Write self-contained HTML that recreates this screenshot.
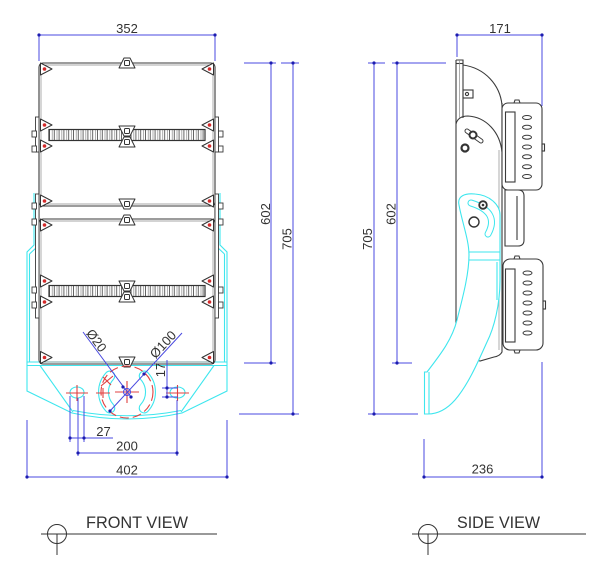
<!DOCTYPE html>
<html><head><meta charset="utf-8"><style>
html,body{margin:0;padding:0;background:#fff;}
svg{display:block}
text{font-family:"Liberation Sans",Arial,sans-serif;fill:#333;font-size:13px;}
</style></head><body>
<svg width="600" height="562" viewBox="0 0 600 562" xmlns="http://www.w3.org/2000/svg">
<defs>
<pattern id="fins" patternUnits="userSpaceOnUse" x="49" y="0" width="4.8" height="20">
<rect width="4.8" height="20" fill="#fff"/>
<line x1="0.5" y1="0" x2="0.5" y2="20" stroke="#555" stroke-width="0.9"/>
<line x1="3.2" y1="0" x2="3.2" y2="20" stroke="#8a8a8a" stroke-width="0.7"/>
</pattern>
</defs>
<rect width="600" height="562" fill="#fff"/>

<!-- ============ FRONT VIEW ============ -->
<g fill="none" stroke="#3ee6ee" stroke-width="1.1">
 <path d="M34,193 V245 L27,252 V391 L72,413 Q127,425 182,413 L227,391 V252 L220,245 V193"/>
 <path d="M73,410.5 Q127,421 181,410.5"/>
 <path d="M29.5,254 V362 M224.5,254 V362"/>
 <path d="M27,362 H227 M27,365.5 H227"/>
 <path d="M40,365.5 L73,412 M214,365.5 L181,412"/>
 <path d="M37,247 L29.5,254 M217,247 L224.5,254"/>
</g>

<g fill="none" stroke="#3a3a3a" stroke-width="1.1">
 <rect x="39" y="63" width="176" height="143" rx="4"/>
 <rect x="39" y="219" width="176" height="145" rx="4"/>
 <path d="M39,204 V221 M215,204 V221"/>
</g>
<g fill="none" stroke="#8a8a8a" stroke-width="0.7">
 <rect x="41" y="65" width="172" height="139" rx="3"/>
 <rect x="41" y="221" width="172" height="141" rx="3"/>
</g>

<g fill="#fff" stroke="#3a3a3a" stroke-width="0.9">
 <rect x="35.5" y="117" width="3.5" height="35"/>
 <rect x="215" y="117" width="3.5" height="35"/>
 <rect x="35.5" y="194" width="3.5" height="124"/>
 <rect x="215" y="194" width="3.5" height="124"/>
 <rect x="32" y="131" width="4.5" height="6"/>
 <rect x="32" y="146" width="4.5" height="6"/>
 <rect x="32" y="203" width="4.5" height="6"/>
 <rect x="32" y="219" width="4.5" height="6"/>
 <rect x="32" y="287" width="4.5" height="6"/>
 <rect x="32" y="302" width="4.5" height="6"/>
 <rect x="218.5" y="131" width="4.5" height="6"/>
 <rect x="218.5" y="146" width="4.5" height="6"/>
 <rect x="218.5" y="203" width="4.5" height="6"/>
 <rect x="218.5" y="219" width="4.5" height="6"/>
 <rect x="218.5" y="287" width="4.5" height="6"/>
 <rect x="218.5" y="302" width="4.5" height="6"/>
</g>

<rect x="49" y="129.5" width="156" height="11" fill="url(#fins)" stroke="#333" stroke-width="1.2"/>
<rect x="49" y="285.5" width="156" height="11" fill="url(#fins)" stroke="#333" stroke-width="1.2"/>

<g fill="#fff" stroke="#333" stroke-width="1" stroke-linejoin="round">
 <path d="M40.5,63 L52,69 L40.5,75 Z"/>
 <path d="M40.5,119 L52,125 L40.5,131 Z"/>
 <path d="M40.5,140 L52,146 L40.5,152 Z"/>
 <path d="M40.5,195 L52,201 L40.5,207 Z"/>
 <path d="M40.5,219 L52,225 L40.5,231 Z"/>
 <path d="M40.5,275 L52,281 L40.5,287 Z"/>
 <path d="M40.5,296 L52,302 L40.5,308 Z"/>
 <path d="M40.5,351.5 L52,357.5 L40.5,363.5 Z"/>
 <path d="M213.5,63 L202,69 L213.5,75 Z"/>
 <path d="M213.5,119 L202,125 L213.5,131 Z"/>
 <path d="M213.5,140 L202,146 L213.5,152 Z"/>
 <path d="M213.5,195 L202,201 L213.5,207 Z"/>
 <path d="M213.5,219 L202,225 L213.5,231 Z"/>
 <path d="M213.5,275 L202,281 L213.5,287 Z"/>
 <path d="M213.5,296 L202,302 L213.5,308 Z"/>
 <path d="M213.5,351.5 L202,357.5 L213.5,363.5 Z"/>
</g>
<g fill="#d42a2a">
 <circle cx="44.5" cy="69" r="1.8"/><circle cx="44.5" cy="125" r="1.8"/>
 <circle cx="44.5" cy="146" r="1.8"/><circle cx="44.5" cy="201" r="1.8"/>
 <circle cx="44.5" cy="225" r="1.8"/><circle cx="44.5" cy="281" r="1.8"/>
 <circle cx="44.5" cy="302" r="1.8"/><circle cx="44.5" cy="357.5" r="1.8"/>
 <circle cx="209.5" cy="69" r="1.8"/><circle cx="209.5" cy="125" r="1.8"/>
 <circle cx="209.5" cy="146" r="1.8"/><circle cx="209.5" cy="201" r="1.8"/>
 <circle cx="209.5" cy="225" r="1.8"/><circle cx="209.5" cy="281" r="1.8"/>
 <circle cx="209.5" cy="302" r="1.8"/><circle cx="209.5" cy="357.5" r="1.8"/>
</g>

<g fill="#fff" stroke="#333" stroke-width="1" stroke-linejoin="round">
 <path d="M124,58 L130,58 L135,68 L119,68 Z"/><rect x="124.5" y="60.5" width="5" height="5" rx="1"/>
 <path d="M119,126 L135,126 L130,136 L124,136 Z"/><rect x="124.5" y="128.5" width="5" height="5" rx="1"/>
 <path d="M124,137 L130,137 L135,147 L119,147 Z"/><rect x="124.5" y="139.5" width="5" height="5" rx="1"/>
 <path d="M119,199 L135,199 L130,209 L124,209 Z"/><rect x="124.5" y="201.5" width="5" height="5" rx="1"/>
 <path d="M124,215 L130,215 L135,225 L119,225 Z"/><rect x="124.5" y="217.5" width="5" height="5" rx="1"/>
 <path d="M119,281 L135,281 L130,291 L124,291 Z"/><rect x="124.5" y="283.5" width="5" height="5" rx="1"/>
 <path d="M124,292 L130,292 L135,302 L119,302 Z"/><rect x="124.5" y="294.5" width="5" height="5" rx="1"/>
 <path d="M119,357 L135,357 L130,367 L124,367 Z"/><rect x="124.5" y="359.5" width="5" height="5" rx="1"/>
</g>

<g fill="none" stroke-linecap="round">
 <path d="M109.8,376 A23.5,23.5 0 0 0 109.8,408" stroke="#3ee6ee" stroke-width="11"/>
 <path d="M109.8,376 A23.5,23.5 0 0 0 109.8,408" stroke="#fff" stroke-width="8.8"/>
 <path d="M144.2,376 A23.5,23.5 0 0 1 144.2,408" stroke="#3ee6ee" stroke-width="11"/>
 <path d="M144.2,376 A23.5,23.5 0 0 1 144.2,408" stroke="#fff" stroke-width="8.8"/>
</g>
<g fill="#fff" stroke="#3ee6ee" stroke-width="1.1">
 <ellipse cx="77" cy="392.5" rx="7" ry="5.5"/>
 <ellipse cx="177.5" cy="392.5" rx="7.5" ry="5.5"/>
</g>
<g stroke="#e04040" stroke-width="1.1" fill="none">
 <circle cx="127" cy="392" r="26" stroke-dasharray="9,4"/>
 <path d="M115,392 H139 M127,381 V403"/>
 <path d="M66,393 H88 M77,385 V401"/>
 <path d="M166,393 H189 M177.5,385 V401"/>
 <path d="M96,393 H110 M103,388 V398"/>
 <path d="M101,386 L113,376 M103,377 L111,385"/>
</g>
<circle cx="127" cy="392" r="3.5" fill="none" stroke="#4a4ae0" stroke-width="1"/>

<!-- ============ SIDE VIEW ============ -->
<g fill="none" stroke="#3a3a3a" stroke-width="1.1">
 <path d="M456,60 V338 Q462,358 480,361 L494,357 Q500,356 502,352 V103"/>
 <path d="M456,60 H463 V118"/>
 <path d="M456,63.5 H463"/>
 <path d="M463,65 C485,68 500,85 502,105"/>
 <path d="M456,124 Q458,116 468,116 C486,117 500,132 502,152"/>
 <rect x="502" y="103" width="40" height="87" rx="6" fill="#fff"/>
 <rect x="505.5" y="112" width="9.5" height="70"/>
 <path d="M505,190 V246 H518 Q524,246 524,240 V196 Q524,190 518,190 Z" fill="#fff"/>
 <path d="M517,196 V240"/>
 <rect x="503" y="259" width="40" height="91" rx="7" fill="#fff"/>
 <rect x="505.5" y="269" width="9.5" height="73"/>
 <path d="M514,103 L515,100 H519 L520,103"/>
 <path d="M514,259 L515,256 H519 L520,259"/>
 <path d="M514,350 L515,353 H519 L520,350"/>
 <rect x="542" y="144" width="2.5" height="7"/>
 <rect x="543" y="301" width="2.5" height="8"/>
 <rect x="463" y="90" width="10" height="8"/>
 <circle cx="467" cy="94" r="1.6"/>
</g>
<g fill="none" stroke="#8a8a8a" stroke-width="0.7">
 <path d="M459.5,60 V118"/>
 <path d="M499,150 V350"/>
</g>
<g fill="none" stroke="#3a3a3a" stroke-width="1">
 <ellipse cx="527" cy="117.5" rx="4.5" ry="2"/><ellipse cx="527" cy="127.3" rx="4.5" ry="2"/>
 <ellipse cx="527" cy="137.2" rx="4.5" ry="2"/><ellipse cx="527" cy="147" rx="4.5" ry="2"/>
 <ellipse cx="527" cy="156.8" rx="4.5" ry="2"/><ellipse cx="527" cy="166.7" rx="4.5" ry="2"/>
 <ellipse cx="527" cy="176.5" rx="4.5" ry="2"/>
 <ellipse cx="527.5" cy="273" rx="4.5" ry="2"/><ellipse cx="527.5" cy="283" rx="4.5" ry="2"/>
 <ellipse cx="527.5" cy="293" rx="4.5" ry="2"/><ellipse cx="527.5" cy="303" rx="4.5" ry="2"/>
 <ellipse cx="527.5" cy="313" rx="4.5" ry="2"/><ellipse cx="527.5" cy="323" rx="4.5" ry="2"/>
 <ellipse cx="527.5" cy="333" rx="4.5" ry="2"/>
</g>
<path d="M467,131 L481,141" stroke="#3a3a3a" stroke-width="5" stroke-linecap="round"/>
<path d="M467,131 L481,141" stroke="#fff" stroke-width="3" stroke-linecap="round"/>
<circle cx="473" cy="135" r="3.5" fill="#fff" stroke="#333" stroke-width="2"/>
<circle cx="465" cy="148" r="3.5" fill="#fff" stroke="#333" stroke-width="2.2"/>

<path d="M427,372 C440,355 452,340 457,320 C462,300 469,275 469,255 C469,240 462,222 459,205 C457,196 465,193 475,194 C490,195 500,205 500,215 L500,280 C500,305 494,328 487,342 C478,362 468,385 455,400 C447,409 438,414 428,414 L424.5,414 L424.5,372 Z" fill="#fff" stroke="#3ee6ee" stroke-width="1.1"/>
<g fill="none" stroke="#3ee6ee" stroke-width="1.1">
 <path d="M429,372 V414"/>
 <path d="M469,252 H500 M469,260 H500"/>
 <path d="M497,262 V300"/>
</g>
<path d="M471,203 Q500,212 488,234" fill="none" stroke="#3ee6ee" stroke-width="7" stroke-linecap="round"/>
<path d="M471,203 Q500,212 488,234" fill="none" stroke="#fff" stroke-width="5" stroke-linecap="round"/>
<circle cx="483" cy="205" r="3.8" fill="#fff" stroke="#333" stroke-width="1.8"/>
<circle cx="483" cy="205" r="1.3" fill="#333"/>
<circle cx="474" cy="222" r="5" fill="#fff" stroke="#333" stroke-width="1.4"/>

<!-- ============ DIMENSIONS ============ -->
<g stroke="#4a4ae0" stroke-width="1" fill="none">
 <path d="M39,35 H215 M39,35 V61 M215,35 V61"/>
 <path d="M244,63 H276 M244,363 H276 M271,63 V363"/>
 <path d="M281,63 H299 M239,414 H299 M293,63 V414"/>
 <path d="M368,63 H385 M368,414 H418 M374,63 V414"/>
 <path d="M392,63 H446 M392,363 H412 M397,63 V363"/>
 <path d="M457,35 H542 M457,35 V57 M542,35 V106"/>
 <path d="M424,439 V477 H542 V362"/>
 <path d="M27,420 V477 H227 V420"/>
 <path d="M78,398 V456 M177,400 V456 M78,453 H177"/>
 <path d="M70,396 V442 M84,396 V442 M70,438 H113"/>
 <path d="M167,360 V398 M162,388 H178 M162,397 H178"/>
 <path d="M83,332 L131,397 M182,333 L110,411"/>
</g>
<g fill="#1c1cb0">
 <circle cx="39" cy="35" r="1.6"/><circle cx="215" cy="35" r="1.6"/>
 <circle cx="271" cy="63" r="1.6"/><circle cx="271" cy="363" r="1.6"/>
 <circle cx="293" cy="63" r="1.6"/><circle cx="293" cy="414" r="1.6"/>
 <circle cx="374" cy="63" r="1.6"/><circle cx="374" cy="414" r="1.6"/>
 <circle cx="397" cy="63" r="1.6"/><circle cx="397" cy="363" r="1.6"/>
 <circle cx="457" cy="35" r="1.6"/><circle cx="542" cy="35" r="1.6"/>
 <circle cx="424" cy="477" r="1.6"/><circle cx="542" cy="477" r="1.6"/>
 <circle cx="27" cy="477" r="1.6"/><circle cx="227" cy="477" r="1.6"/>
 <circle cx="78" cy="453" r="1.6"/><circle cx="177" cy="453" r="1.6"/>
 <circle cx="70" cy="438" r="1.6"/><circle cx="84" cy="438" r="1.6"/>
 <circle cx="167" cy="388" r="1.6"/><circle cx="167" cy="397" r="1.6"/>
 <circle cx="144" cy="374" r="1.6"/><circle cx="110" cy="411" r="1.6"/>
 <circle cx="123" cy="387" r="1.6"/><circle cx="131" cy="397" r="1.6"/>
</g>

<text x="127" y="33" text-anchor="middle">352</text>
<text x="500" y="33" text-anchor="middle">171</text>
<text x="103.5" y="436" text-anchor="middle">27</text>
<text x="127" y="450.5" text-anchor="middle">200</text>
<text x="127" y="474.5" text-anchor="middle">402</text>
<text x="482.5" y="473.5" text-anchor="middle">236</text>
<text transform="translate(270,214) rotate(-90)" text-anchor="middle">602</text>
<text transform="translate(291.5,239) rotate(-90)" text-anchor="middle">705</text>
<text transform="translate(372,239) rotate(-90)" text-anchor="middle">705</text>
<text transform="translate(395.5,214) rotate(-90)" text-anchor="middle">602</text>
<text transform="translate(165,370) rotate(-90)" text-anchor="middle">17</text>
<text transform="translate(96.5,340.5) rotate(53.7)" text-anchor="middle" dy="4.5">Ø20</text>
<text transform="translate(163,344.5) rotate(-47.3)" text-anchor="middle" dy="4.5">Ø100</text>

<g fill="none" stroke="#333" stroke-width="1">
 <path d="M41,534 H217 M57,534 V555"/>
 <circle cx="57" cy="534" r="9.5"/>
 <path d="M412,534 H586 M428,534 V555"/>
 <circle cx="428" cy="534" r="9.5"/>
</g>
<text x="86" y="528" style="font-size:16.5px" textLength="102" lengthAdjust="spacingAndGlyphs">FRONT VIEW</text>
<text x="457" y="528" style="font-size:16.5px" textLength="83" lengthAdjust="spacingAndGlyphs">SIDE VIEW</text>
</svg>
</body></html>
